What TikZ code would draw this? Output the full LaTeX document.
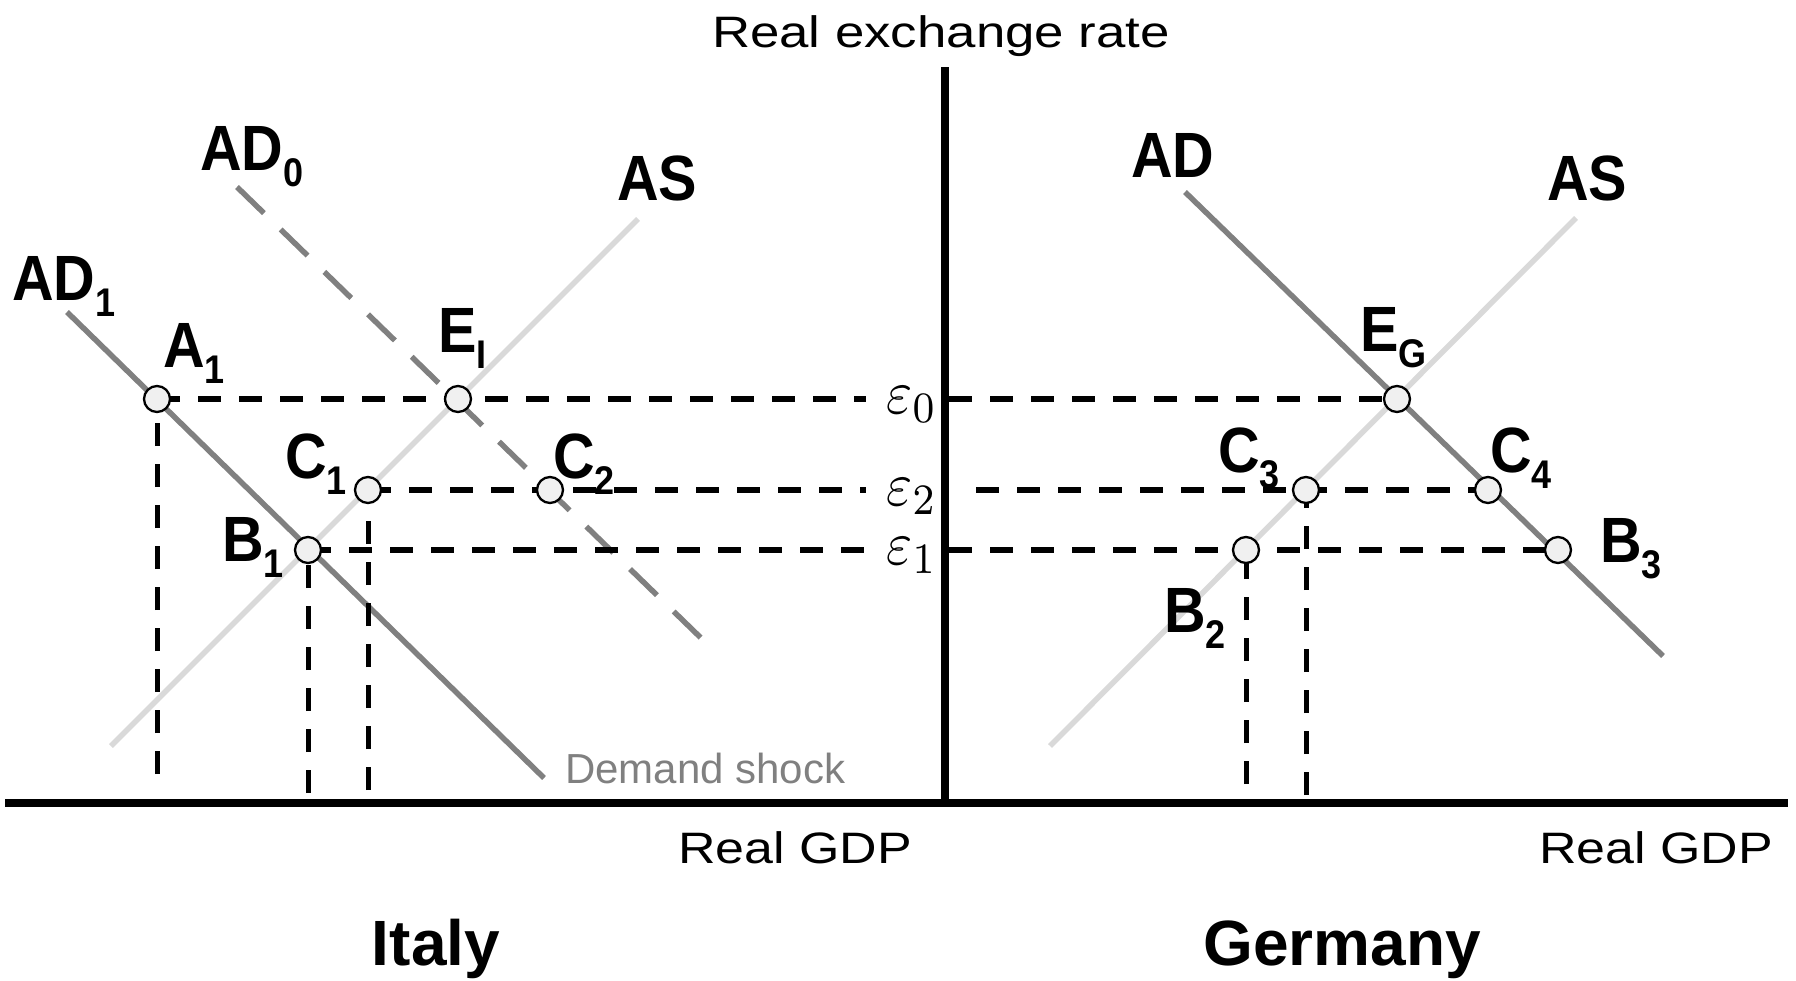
\documentclass[tikz,border=0pt]{standalone}
\usepackage{fontspec}
\setmainfont{Liberation Sans}
\definecolor{adgray}{HTML}{808080}
\definecolor{asgray}{HTML}{D9D9D9}
\definecolor{dotfill}{HTML}{F0F0F0}
\newcommand{\lbl}[2]{\scalebox{0.9}[1]{\bfseries\fontsize{64}{64}\selectfont #1\raisebox{-16pt}{\fontsize{40}{40}\selectfont #2}}}
\newcommand{\eps}[1]{\scalebox{5.6}[6.2]{\fontsize{10}{12}\selectfont$\varepsilon_{#1}$}}
\begin{document}
\begin{tikzpicture}[x=1pt,y=-1pt,
  curveAD/.style={line width=5.5pt, color=adgray},
  curveAS/.style={line width=5.5pt, color=asgray},
  adzero/.style={curveAD, dash pattern=on 37.5pt off 23.4pt},
  hdash/.style={line width=5.5pt, dash pattern=on 23pt off 18pt},
  vdash/.style={line width=5pt, dash pattern=on 23pt off 18pt},
  axisline/.style={line width=7.5pt},
  dot/.style={circle, draw, line width=2.3pt, fill=dotfill, minimum size=26pt, inner sep=0pt},
  lab/.style={anchor=base west, inner sep=0pt},
  plain/.style={inner sep=0pt, font=\fontsize{44}{44}\selectfont}
]
\useasboundingbox (0,0) rectangle (1796,980);

% key points
\coordinate (a1) at (157,399);
\coordinate (ei) at (458,399);
\coordinate (c1) at (368,490);
\coordinate (c2) at (550,490);
\coordinate (b1) at (308,550);
\coordinate (eg) at (1397,399);
\coordinate (c3) at (1306,490);
\coordinate (c4) at (1488,490);
\coordinate (b2) at (1246,550);
\coordinate (b3) at (1558,550);

% curve ends
\coordinate (asIa) at (111,746);
\coordinate (asIb) at (638,219);
\coordinate (adIa) at (67,312);
\coordinate (adIb) at (544,778);
\coordinate (adZa) at (237,187);
\coordinate (adZb) at (701,638);
\coordinate (asGa) at (1050,746);
\coordinate (asGb) at (1576,218);
\coordinate (adGa) at (1185,192);
\coordinate (adGb) at (1663,656);

% dashed ends
\coordinate (l0) at (866,399);
\coordinate (l2) at (866,490);
\coordinate (l1) at (866,550);
\coordinate (r0) at (949,399);
\coordinate (r2) at (976,490);
\coordinate (r1) at (949,550);
\coordinate (a1b) at (157,774);
\coordinate (b1b) at (308,793);
\coordinate (c1b) at (368,790);
\coordinate (b2b) at (1246,784);
\coordinate (c3b) at (1306,795);

% axes ends
\coordinate (ytop) at (945,67);
\coordinate (ybot) at (945,803);
\coordinate (xl) at (5,803);
\coordinate (xr) at (1788,803);

% curves
\draw[curveAS] (asIa) -- (asIb);
\draw[curveAD] (adIa) -- (adIb);
\draw[adzero] (adZa) -- (adZb);
\draw[curveAS] (asGa) -- (asGb);
\draw[curveAD] (adGa) -- (adGb);

% dashed guides
\draw[hdash] (a1) -- (l0);
\draw[hdash] (c1) -- (l2);
\draw[hdash] (b1) -- (l1);
\draw[hdash] (r0) -- (eg);
\draw[hdash] (r2) -- (c4);
\draw[hdash] (r1) -- (b3);
\draw[vdash] (a1b) -- (a1);
\draw[vdash] (b1b) -- (b1);
\draw[vdash] (c1b) -- (c1);
\draw[vdash] (b2b) -- (b2);
\draw[vdash] (c3b) -- (c3);

% axes
\draw[axisline] (ytop) -- (ybot);
\draw[axisline] (xl) -- (xr);

% points
\node[dot] (A1) at (a1) {};
\node[dot] (EI) at (ei) {};
\node[dot] (C1) at (c1) {};
\node[dot] (C2) at (c2) {};
\node[dot] (B1) at (b1) {};
\node[dot] (EG) at (eg) {};
\node[dot] (C3) at (c3) {};
\node[dot] (C4) at (c4) {};
\node[dot] (B2) at (b2) {};
\node[dot] (B3) at (b3) {};

% point labels
\node[lab] (tAD0) at (200,170) {\lbl{AD}{0}};
\node[lab] (tASI) at (617,200) {\lbl{AS}{}};
\node[lab] (tAD1) at (12,300) {\lbl{AD}{1}};
\node[lab] (tA1) at (163,367) {\lbl{A}{1}};
\node[lab] (tEI) at (438,352) {\lbl{E}{I}};
\node[lab] (tC1) at (285,478) {\lbl{C}{1}};
\node[lab] (tC2) at (553,478) {\lbl{C}{2}};
\node[lab] (tB1) at (222,561) {\lbl{B}{1}};
\node[lab] (tADG) at (1131,177) {\lbl{AD}{}};
\node[lab] (tASG) at (1547,200) {\lbl{AS}{}};
\node[lab] (tEG) at (1360,351) {\lbl{E}{G}};
\node[lab] (tC3) at (1218,472) {\lbl{C}{3}};
\node[lab] (tC4) at (1490,472) {\lbl{C}{4}};
\node[lab] (tB3) at (1600,562) {\lbl{B}{3}};
\node[lab] (tB2) at (1164,632) {\lbl{B}{2}};

% epsilon labels
\node[lab] (e0) at (886,413) {\eps{0}};
\node[lab] (e2) at (886,505) {\eps{2}};
\node[lab] (e1) at (886,564) {\eps{1}};

% axis texts
\node[plain, anchor=base] (rer) at (941,47) {\scalebox{1.2}[1]{Real exchange rate}};
\node[plain, anchor=base] (gdpI) at (795,863) {\scalebox{1.18}[1]{Real GDP}};
\node[plain, anchor=base] (gdpG) at (1656,863) {\scalebox{1.18}[1]{Real GDP}};
\node[lab, text=adgray, font=\fontsize{42}{42}\selectfont] (shock) at (565,783) {Demand shock};

% country titles
\node[inner sep=0pt, anchor=base, font=\bfseries\fontsize{64}{64}\selectfont] (italy) at (436,965) {Italy};
\node[inner sep=0pt, anchor=base, font=\bfseries\fontsize{64}{64}\selectfont] (germany) at (1342,965) {Germany};
\end{tikzpicture}
\end{document}
